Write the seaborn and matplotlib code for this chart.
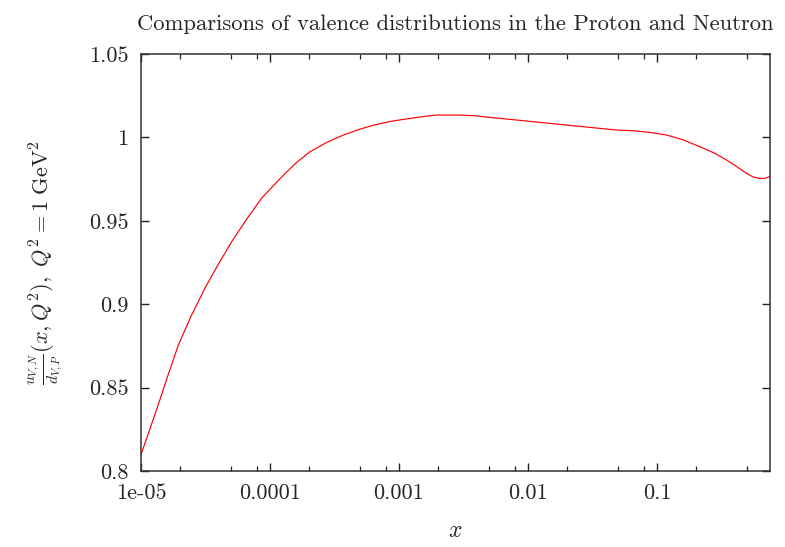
import matplotlib
matplotlib.use("Agg")
import matplotlib.pyplot as plt
import seaborn as sns
import numpy as np
import pandas as pd

# data
x_vals = [1e-5, 1.17e-5, 1.36e-5, 1.58e-5, 1.95e-5, 2.45e-5, 3.13e-5, 3.98e-5, 5.05e-5,
          6.6e-5, 8.6e-5, 1.2e-4, 1.58e-4, 2.04e-4, 2.75e-4, 3.7e-4, 5.0e-4, 6.7e-4,
          8.9e-4, 1.22e-3, 1.58e-3, 1.96e-3, 2.97e-3, 4.0e-3, 4.5e-3, 8.2e-3, 0.0148,
          0.0269, 0.0361, 0.0488, 0.0655, 0.0883, 0.119, 0.16, 0.215, 0.28, 0.347,
          0.42, 0.495, 0.56, 0.628, 0.69, 0.75]
ratio = [0.8098, 0.8250, 0.8397, 0.8550, 0.8756, 0.8930, 0.9096, 0.9240, 0.9375,
         0.9510, 0.9635, 0.9754, 0.9845, 0.9914, 0.9970, 1.0014, 1.0050, 1.0078,
         1.0098, 1.0114, 1.0126, 1.0134, 1.0134, 1.0129, 1.0124, 1.0104, 1.0084,
         1.0064, 1.0054, 1.0044, 1.0040, 1.0030, 1.0014, 0.9985, 0.9944, 0.9905, 0.9864,
         0.9822, 0.9784, 0.9762, 0.9754, 0.9755, 0.9765]
x_ticks = [1e-5, 1e-4, 1e-3, 1e-2, 1e-1]
x_tick_labels = ["1e-05", "0.0001", "0.001", "0.01", "0.1"]
y_ticks = [0.8, 0.85, 0.9, 0.95, 1.0, 1.05]
y_tick_labels = ["0.8", "0.85", "0.9", "0.95", "1", "1.05"]

sns.set_style("ticks")
plt.rcParams["font.family"] = ["cmr10", "DejaVu Serif"]
plt.rcParams["mathtext.fontset"] = "cm"
plt.rcParams["axes.formatter.use_mathtext"] = True

df = pd.DataFrame({"x": x_vals, "r": ratio})

fig = plt.figure(figsize=(7.85, 5.47), dpi=100)
ax = fig.add_axes([141/785, 1 - 471/547, (770 - 141)/785, (471 - 54)/547])

sns.lineplot(data=df, x="x", y="r", ax=ax, color="#ff0000", linewidth=0.85,
             estimator=None, sort=False)
ax.set_xscale("log")
ax.set_xlim(1e-5, 0.752)
ax.set_ylim(0.8, 1.05)

ax.set_xticks(x_ticks)
ax.set_xticklabels(x_tick_labels)
minor = []
for d in [1e-5, 1e-4, 1e-3, 1e-2, 1e-1]:
    for m in (2, 5, 8):
        v = d * m
        if v < 0.752:
            minor.append(v)
ax.set_xticks(minor, minor=True)
ax.set_xticklabels([], minor=True)
ax.set_yticks(y_ticks)
ax.set_yticklabels(y_tick_labels)
ax.yaxis.set_minor_locator(matplotlib.ticker.NullLocator())

ax.tick_params(axis="both", which="major", direction="in", length=6, width=1.0,
               top=True, right=True, labelsize=16, pad=9, color="#222222")
ax.tick_params(axis="x", which="minor", direction="in", length=3.5, width=0.9,
               top=True, bottom=True, color="#222222")
for s in ax.spines.values():
    s.set_linewidth(1.1)
    s.set_color("#333333")

ax.set_xlabel(r"$x$", fontsize=17, labelpad=12)
ax.set_ylabel(r"$\frac{u_{V,N}}{d_{V,P}}(x,Q^2),\ Q^2 = 1\ \mathrm{GeV}^2$",
              fontsize=16, labelpad=17)
ax.set_title("Comparisons of valence distributions in the Proton and Neutron",
             fontsize=16.3, pad=17)

fig.savefig("out.png", dpi=100)
